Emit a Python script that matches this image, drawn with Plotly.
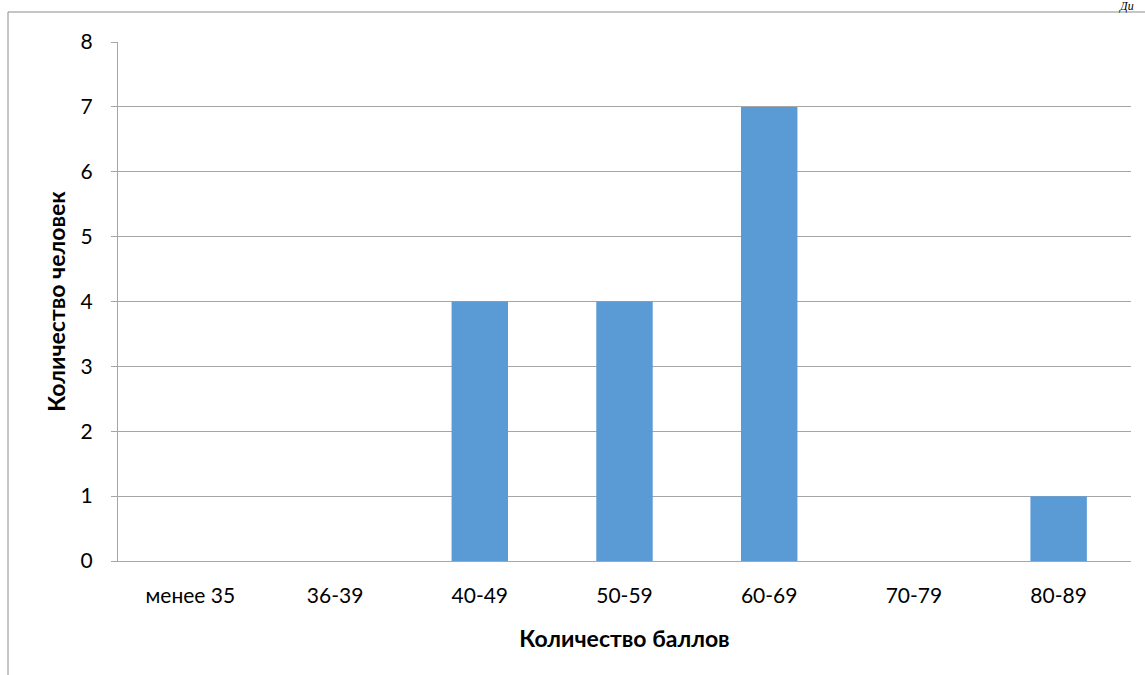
import plotly.graph_objects as go

# Score bands and number of people in each
categories = ["менее 35", "36-39", "40-49", "50-59", "60-69", "70-79", "80-89"]
counts = [0, 0, 4, 4, 7, 0, 1]
y_ticks = [0, 1, 2, 3, 4, 5, 6, 7, 8]

W, H = 1145, 675
ML, MR, MT, MB = 118, 14, 42, 114
PW, PH = W - ML - MR, H - MT - MB


def px_x(x):
    return (x - ML) / PW


def px_y(y):
    return 1 - (y - MT) / PH


FONT = "Lato"

fig = go.Figure(
    go.Bar(
        x=categories,
        y=counts,
        marker=dict(color="#5B9BD5", line=dict(width=0)),
        width=0.39,
        hoverinfo="x+y",
    )
)

fig.update_layout(
    width=W,
    height=H,
    margin=dict(l=ML, r=MR, t=MT, b=MB),
    paper_bgcolor="white",
    plot_bgcolor="white",
    showlegend=False,
    font=dict(family=FONT, size=21, color="#000000"),
    xaxis=dict(
        type="category",
        showgrid=False,
        showline=True,
        linecolor="#A6A6A6",
        linewidth=1,
        ticks="",
        ticklabelstandoff=16,
        tickfont=dict(size=21, family=FONT),
        title=dict(
            text="<b>Количество баллов</b>",
            font=dict(size=23, family=FONT),
            standoff=24,
        ),
    ),
    yaxis=dict(
        range=[0, 8],
        tickvals=y_ticks,
        showgrid=True,
        gridcolor="#A6A6A6",
        gridwidth=1,
        showline=True,
        linecolor="#A6A6A6",
        linewidth=1,
        ticks="outside",
        ticklen=6,
        tickcolor="#A6A6A6",
        ticklabelstandoff=14,
        tickfont=dict(size=21, family=FONT),
        zeroline=False,
        title=dict(
            text="<b>Количество человек</b>",
            font=dict(size=23, family=FONT),
            standoff=8,
        ),
    ),
    shapes=[
        # outer frame: left and top edges
        dict(type="line", xref="paper", yref="paper",
             x0=px_x(8), x1=px_x(8), y0=px_y(12), y1=px_y(H + 5),
             line=dict(color="#8C8C8C", width=1)),
        dict(type="line", xref="paper", yref="paper",
             x0=px_x(8), x1=px_x(W + 5), y0=px_y(12), y1=px_y(12),
             line=dict(color="#8C8C8C", width=1)),
    ],
    annotations=[
        dict(text="<i>Ди</i>", xref="paper", yref="paper",
             x=px_x(1118), y=px_y(14), xanchor="left", yanchor="bottom",
             borderpad=0,
             showarrow=False,
             font=dict(family="Liberation Serif", size=12, color="#000000")),
    ],
)

fig.write_html("out.html")
